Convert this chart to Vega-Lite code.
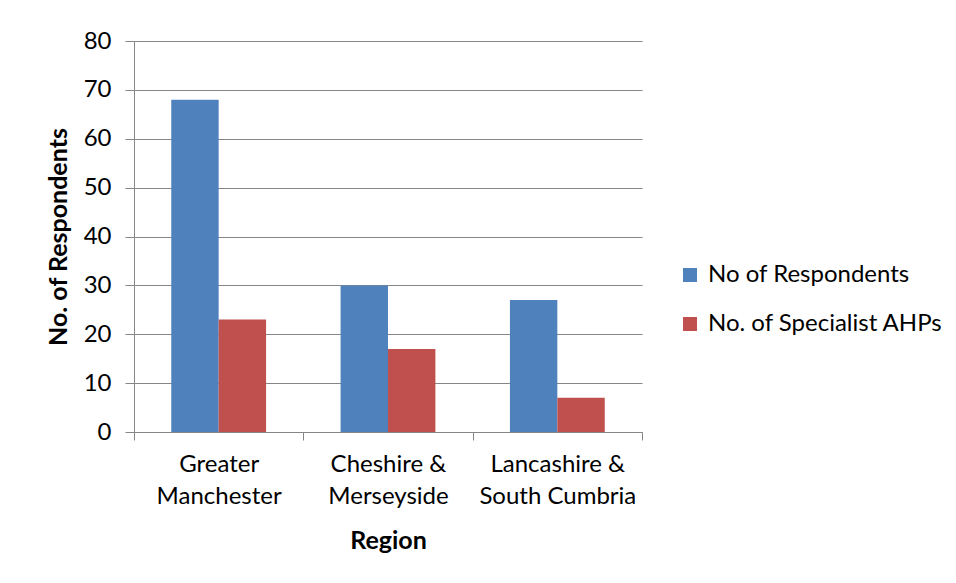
{
  "$schema": "https://vega.github.io/schema/vega-lite/v6.json",
  "width": 508,
  "height": 391,
  "autosize": {"type": "none"},
  "padding": {"left": 134, "top": 41, "right": 314, "bottom": 151},
  "background": "white",
  "data": {
    "values": [
      {"region": "Greater Manchester", "series": "No of Respondents", "count": 68},
      {"region": "Greater Manchester", "series": "No. of Specialist AHPs", "count": 23},
      {"region": "Cheshire & Merseyside", "series": "No of Respondents", "count": 30},
      {"region": "Cheshire & Merseyside", "series": "No. of Specialist AHPs", "count": 17},
      {"region": "Lancashire & South Cumbria", "series": "No of Respondents", "count": 27},
      {"region": "Lancashire & South Cumbria", "series": "No. of Specialist AHPs", "count": 7}
    ]
  },
  "mark": {"type": "bar"},
  "encoding": {
    "x": {
      "field": "region",
      "type": "nominal",
      "sort": ["Greater Manchester", "Cheshire & Merseyside", "Lancashire & South Cumbria"],
      "scale": {"paddingInner": 0, "paddingOuter": 0},
      "axis": {
        "title": "Region",
        "labelAngle": 0,
        "tickSize": 8,
        "tickBand": "extent",
        "labelPadding": 12,
        "labelLineHeight": 32,
        "labelExpr": "datum.value == 'Greater Manchester' ? ['Greater', 'Manchester'] : datum.value == 'Cheshire & Merseyside' ? ['Cheshire &', 'Merseyside'] : datum.value == 'Lancashire & South Cumbria' ? ['Lancashire &', 'South Cumbria'] : ''",
        "titlePadding": 20
      }
    },
    "xOffset": {
      "field": "series",
      "type": "nominal",
      "sort": ["No of Respondents", "No. of Specialist AHPs"],
      "scale": {"paddingInner": 0, "paddingOuter": 0.786}
    },
    "y": {
      "field": "count",
      "type": "quantitative",
      "scale": {"domain": [0, 80]},
      "axis": {
        "title": "No. of Respondents",
        "values": [0, 10, 20, 30, 40, 50, 60, 70, 80],
        "grid": true,
        "tickSize": 9,
        "labelPadding": 14,
        "titlePadding": 12
      }
    },
    "color": {
      "field": "series",
      "type": "nominal",
      "scale": {
        "domain": ["No of Respondents", "No. of Specialist AHPs"],
        "range": ["#4F81BD", "#C0504D"]
      },
      "legend": {
        "title": null,
        "orient": "none",
        "legendX": 544,
        "legendY": 222,
        "symbolType": "square",
        "symbolSize": 196,
        "symbolStrokeWidth": 0,
        "labelOffset": 6,
        "rowPadding": 25,
        "labelFontSize": 24,
        "labelColor": "#000000",
        "labelFont": "Lato",
        "labelLimit": 400
      }
    }
  },
  "config": {
    "view": {"stroke": null},
    "font": "Lato",
    "axis": {
      "domainColor": "#868686",
      "tickColor": "#868686",
      "gridColor": "#868686",
      "gridOpacity": 1,
      "domainWidth": 1,
      "tickWidth": 1,
      "labelFontSize": 24,
      "labelColor": "#000000",
      "labelFont": "Lato",
      "titleFontSize": 25,
      "titleFont": "Lato",
      "titleFontWeight": "bold",
      "titleColor": "#000000"
    }
  }
}
